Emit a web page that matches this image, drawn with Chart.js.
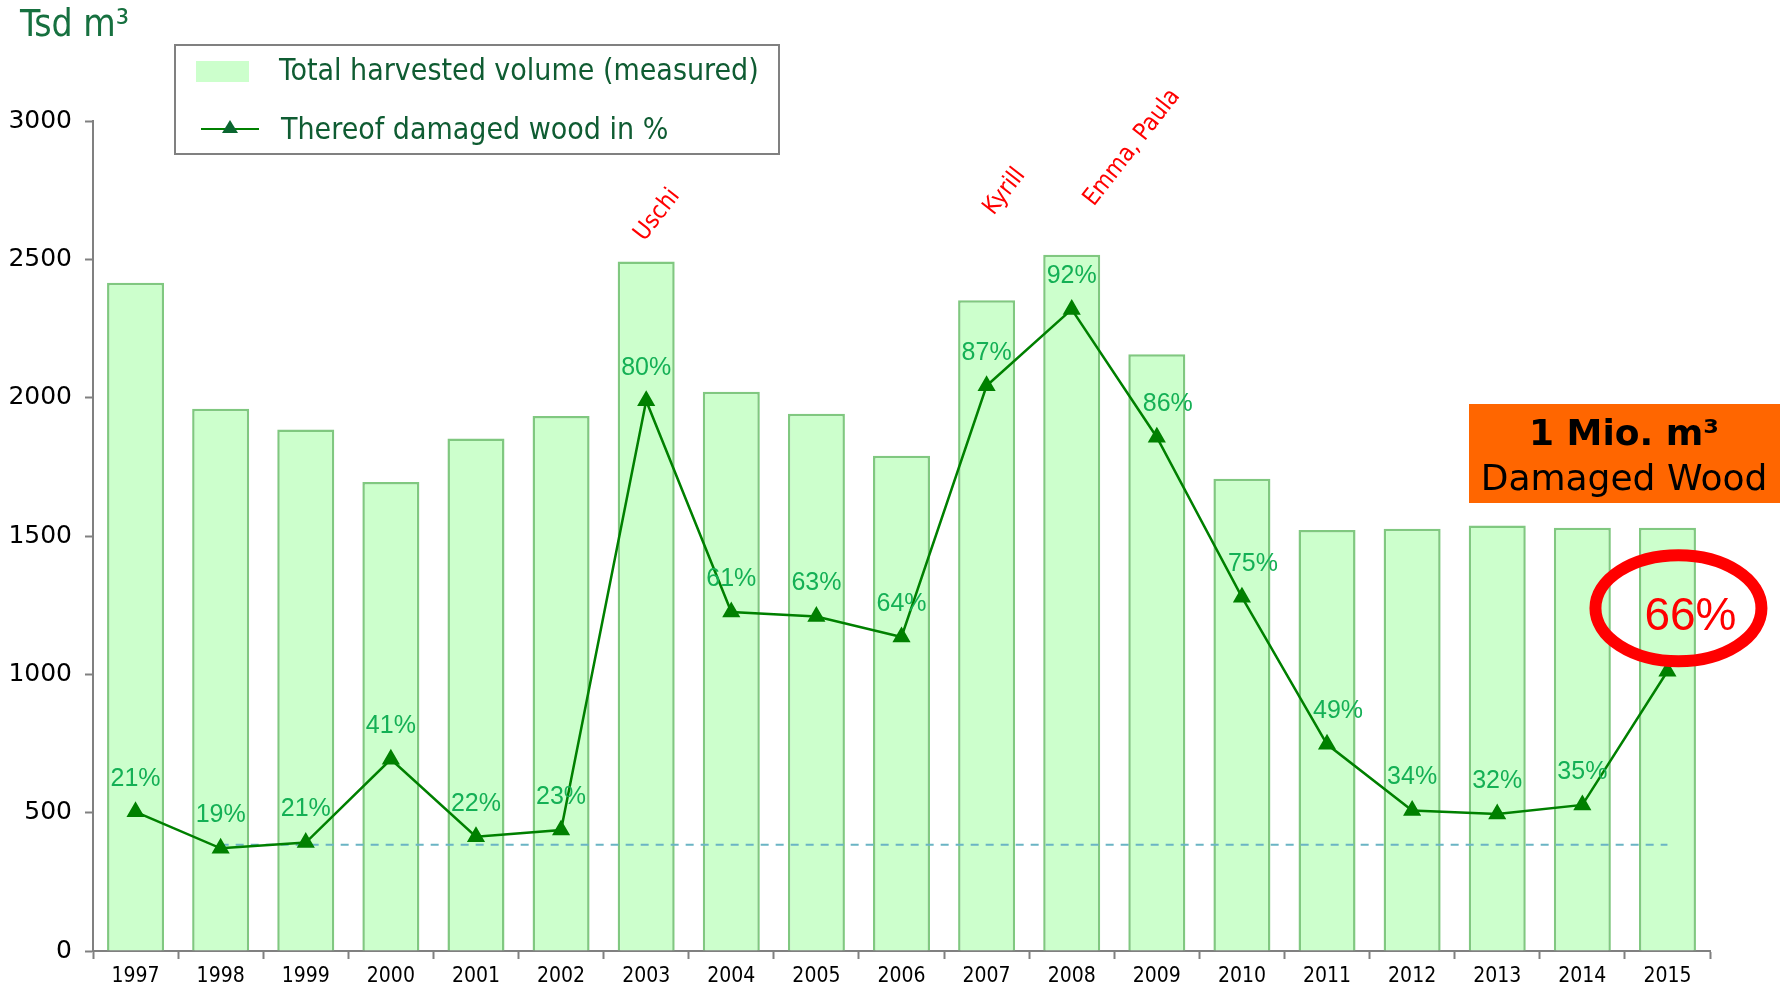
<!DOCTYPE html>
<html>
<head>
<meta charset="utf-8">
<title>Harvested volume and damaged wood</title>
<script src="https://cdn.jsdelivr.net/npm/chart.js@4.4.1/dist/chart.umd.min.js"></script>
<style>
    html, body { margin: 0; padding: 0; background: #fff; }
    #wrap { position: relative; width: 1791px; height: 986px; }
</style>
</head>
<body>
<div id="wrap"><canvas id="harvestChart" width="1791" height="986"></canvas></div>
<script>
// Data
const years = ['1997', '1998', '1999', '2000', '2001', '2002', '2003', '2004', '2005', '2006',
               '2007', '2008', '2009', '2010', '2011', '2012', '2013', '2014', '2015'];
// total harvested volume, Tsd m3
const totalVolume = [2415, 1960, 1885, 1695, 1852, 1934, 2492, 2021, 1942, 1790,
                     2352, 2517, 2157, 1707, 1522, 1526, 1538, 1530, 1530];
// damaged wood volume, Tsd m3 (line height)
const damagedVolume = [503, 371, 392, 693, 413, 437, 1989, 1225, 1209, 1135,
                       2043, 2319, 1857, 1279, 747, 508, 495, 528, 1011];
// share of damaged wood, labels on the line
const damagedPct = [21, 19, 21, 41, 22, 23, 80, 61, 63, 64, 87, 92, 86, 75, 49, 34, 32, 35, 66];
// dashed reference level (1998 onwards)
const baseLevel = [null, 384, 384, 384, 384, 384, 384, 384, 384, 384,
                   384, 384, 384, 384, 384, 384, 384, 384, 384];
const storms = [
    { year: '2003', text: 'Uschi' },
    { year: '2007', text: 'Kyrill' },
    { year: '2008', text: 'Emma, Paula' }
];
const yTicks = [0, 500, 1000, 1500, 2000, 2500, 3000];

const GREEN_TEXT = '#14b055';
const LEGEND_TEXT = '#0f5c32';

// Custom drawing: title, legend box, percent labels, storm names, callouts
const decorations = {
    id: 'decorations',
    afterDatasetsDraw(chart) {
        const ctx = chart.ctx;
        const xs = chart.scales.x;
        const lineMeta = chart.getDatasetMeta(2);

        ctx.save();

        // percent labels above the triangles (last one is drawn as callout)
        ctx.font = '25px "Liberation Sans", Arial, sans-serif';
        ctx.fillStyle = GREEN_TEXT;
        ctx.textAlign = 'center';
        ctx.textBaseline = 'middle';
        const shifted = [12, 13, 14];
        lineMeta.data.forEach((pt, i) => {
            if (i === damagedPct.length - 1) return;
            const dx = shifted.includes(i) ? 11 : 0;
            ctx.fillText(damagedPct[i] + '%', pt.x + dx, pt.y - 33);
        });

        // storm names, rotated
        ctx.font = '24px "DejaVu Sans Condensed", sans-serif';
        ctx.fillStyle = '#ff0000';
        ctx.textAlign = 'left';
        ctx.textBaseline = 'alphabetic';
        const stormOffsets = { Uschi: [-2, 242], Kyrill: [7, 216], 'Emma, Paula': [22, 207] };
        storms.forEach(s => {
            const idx = years.indexOf(s.year);
            const off = stormOffsets[s.text];
            ctx.save();
            ctx.translate(xs.getPixelForValue(idx) + off[0], off[1]);
            ctx.rotate(-52 * Math.PI / 180);
            ctx.fillText(s.text, 0, 0);
            ctx.restore();
        });

        // red ellipse with 66%
        const last = lineMeta.data[lineMeta.data.length - 1];
        const cx = last.x + 11, cy = last.y - 63;
        ctx.beginPath();
        ctx.ellipse(cx, cy, 83, 53, 0, 0, Math.PI * 2);
        ctx.lineWidth = 12;
        ctx.strokeStyle = '#ff0000';
        ctx.stroke();
        ctx.font = '46px "Liberation Sans", Arial, sans-serif';
        ctx.fillStyle = '#ff0000';
        ctx.textAlign = 'center';
        ctx.fillText(damagedPct[damagedPct.length - 1] + '%', cx + 12, cy + 22);

        // orange box
        ctx.fillStyle = '#ff6600';
        ctx.fillRect(1469, 404, 311, 99);
        ctx.fillStyle = '#000';
        ctx.textAlign = 'center';
        ctx.font = 'bold 36px "DejaVu Sans", sans-serif';
        ctx.fillText('1 Mio. m\u00b3', 1624, 445);
        ctx.font = '36px "DejaVu Sans", sans-serif';
        ctx.fillText('Damaged Wood', 1624, 490);

        // axis title
        ctx.font = '37px "DejaVu Sans Condensed", sans-serif';
        ctx.fillStyle = '#16703f';
        ctx.textAlign = 'left';
        ctx.fillText('Tsd m\u00b3', 20, 36);

        // legend box
        ctx.strokeStyle = '#808080';
        ctx.lineWidth = 2;
        ctx.strokeRect(175, 45, 604, 109);
        ctx.fillStyle = '#ccffcc';
        ctx.fillRect(196, 61, 53, 21);
        ctx.strokeStyle = '#008000';
        ctx.lineWidth = 2;
        ctx.beginPath();
        ctx.moveTo(201, 129);
        ctx.lineTo(259, 129);
        ctx.stroke();
        ctx.fillStyle = '#0a6630';
        ctx.beginPath();
        ctx.moveTo(230, 120);
        ctx.lineTo(238, 133);
        ctx.lineTo(222, 133);
        ctx.closePath();
        ctx.fill();
        ctx.font = '30px "DejaVu Sans Condensed", sans-serif';
        ctx.fillStyle = LEGEND_TEXT;
        ctx.textBaseline = 'middle';
        ctx.fillText('Total harvested volume (measured)', 279, 72);
        ctx.fillText('Thereof damaged wood in %', 281, 131);

        ctx.restore();
    }
};

const ctx = document.getElementById('harvestChart');
new Chart(ctx, {
    type: 'bar',
    data: {
        labels: years,
        datasets: [{
            label: 'Total harvested volume (measured)',
            data: totalVolume,
            backgroundColor: '#ccffcc',
            borderColor: '#80c880',
            borderWidth: 2.5,
            barPercentage: 0.67,
            categoryPercentage: 1,
            order: 3
        }, {
            type: 'line',
            label: 'base',
            data: baseLevel,
            borderColor: '#6ab4c4',
            borderWidth: 2,
            borderDash: [8, 7],
            pointRadius: 0,
            fill: false,
            order: 2
        }, {
            type: 'line',
            label: 'Thereof damaged wood in %',
            data: damagedVolume,
            borderColor: '#008000',
            backgroundColor: '#008000',
            borderWidth: 2.5,
            pointStyle: 'triangle',
            pointRadius: 8,
            pointBackgroundColor: '#008000',
            pointBorderColor: '#008000',
            tension: 0,
            fill: false,
            order: 1
        }]
    },
    options: {
        responsive: false,
        animation: false,
        layout: { padding: { top: 121, right: 81, left: 0, bottom: 0 } },
        plugins: {
            legend: { display: false },
            tooltip: { enabled: false }
        },
        scales: {
            x: {
                grid: {
                    offset: true,
                    drawOnChartArea: false,
                    drawTicks: true,
                    tickLength: 8,
                    tickWidth: 2,
                    tickColor: '#808080'
                },
                border: { color: '#808080', width: 2 },
                ticks: {
                    color: '#000',
                    font: { family: '"DejaVu Sans Condensed", sans-serif', size: 21 },
                    padding: 5,
                    maxRotation: 0
                },
                afterFit(scale) { scale.height = 35; }
            },
            y: {
                min: 0,
                max: 3000,
                afterBuildTicks(scale) { scale.ticks = yTicks.map(v => ({ value: v })); },
                grid: {
                    drawOnChartArea: false,
                    drawTicks: true,
                    tickLength: 8,
                    tickWidth: 2,
                    tickColor: '#808080'
                },
                border: { color: '#808080', width: 2 },
                ticks: {
                    color: '#000',
                    font: { family: '"DejaVu Sans", sans-serif', size: 25 },
                    padding: 13,
                    callback: v => String(v)
                },
                afterFit(scale) { scale.width = 93; }
            }
        }
    },
    plugins: [decorations]
});
</script>
</body>
</html>
